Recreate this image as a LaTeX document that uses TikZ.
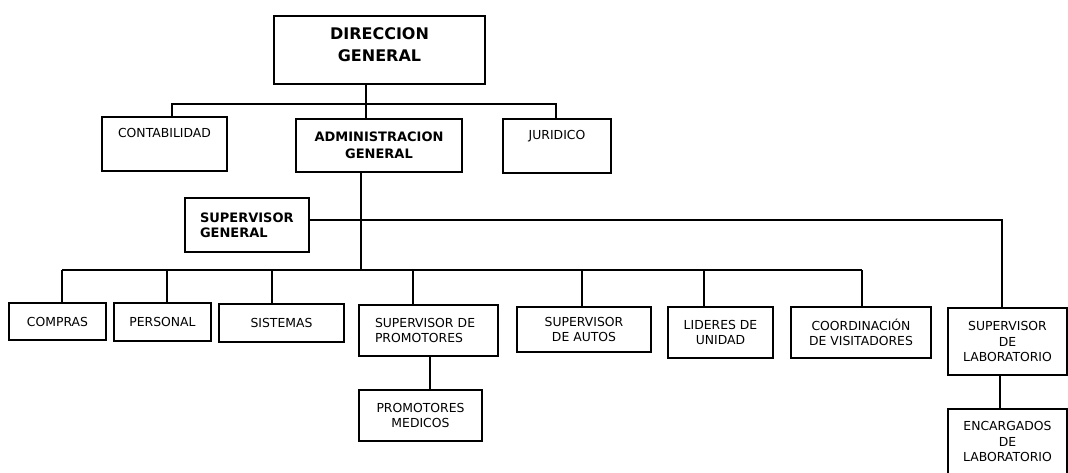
\documentclass[tikz,border=0pt]{standalone}
\usepackage{fontspec}
\setmainfont{DejaVu Sans}
\begin{document}
\begin{tikzpicture}[x=1pt,y=-1pt,
  box/.style={draw, line width=1.3pt, inner sep=0pt, align=center,
    font=\fontsize{12.4}{15.5}\selectfont},
  bbox/.style={box, font=\fontsize{13}{16.5}\selectfont\bfseries},
  topbox/.style={box, text depth=22pt},
  leftbox/.style={align=left, text width=#1},
  wire/.style={line width=1.3pt}]
\useasboundingbox (0,0) rectangle (1068,472);
\clip (0,0) rectangle (1068,472);

% boxes
\node[bbox, font=\fontsize{16}{22}\selectfont\bfseries, minimum width=211pt, minimum height=68pt, text depth=10pt]
  (dg) at (379.5,50) {DIRECCION\\GENERAL};
\node[topbox, minimum width=125pt, minimum height=54pt] (cont) at (164.5,144) {CONTABILIDAD};
\node[bbox, minimum width=166pt, minimum height=53pt] (adm) at (379,145.5) {ADMINISTRACION\\GENERAL};
\node[topbox, minimum width=108pt, minimum height=54pt] (jur) at (557,146) {JURIDICO};
\node[bbox, leftbox=94pt, font=\fontsize{13}{15}\selectfont\bfseries, minimum width=124pt, minimum height=54pt] (sg) at (247,225) {SUPERVISOR\\GENERAL};

\node[box, minimum width=97pt, minimum height=37pt] (com) at (57.5,321.5) {COMPRAS};
\node[box, minimum width=97pt, minimum height=38pt] (per) at (162.5,322) {PERSONAL};
\node[box, minimum width=125pt, minimum height=38pt] (sis) at (281.5,323) {SISTEMAS};
\node[box, leftbox=107pt, minimum width=139pt, minimum height=51pt] (sp) at (428.5,330.5) {SUPERVISOR DE\\PROMOTORES};
\node[box, minimum width=123pt, minimum height=51pt] (pm) at (420.5,415.5) {PROMOTORES\\MEDICOS};
\node[box, minimum width=134pt, minimum height=45pt] (au) at (584,329.5) {SUPERVISOR\\DE AUTOS};
\node[box, minimum width=105pt, minimum height=51pt] (li) at (720.5,332.5) {LIDERES DE\\UNIDAD};
\node[box, minimum width=140pt, minimum height=51pt] (co) at (861,332.5) {COORDINACIÓN\\DE VISITADORES};
\node[box, minimum width=119pt, minimum height=67pt] (sl) at (1007.5,341.5) {SUPERVISOR\\DE\\LABORATORIO};
\node[box, minimum width=119pt, minimum height=65pt] (enc) at (1007.5,441.5) {ENCARGADOS\\DE\\LABORATORIO};

% junction coordinates
\coordinate (j1) at (172,104);
\coordinate (j2) at (556,104);
\coordinate (jd) at (366,104);
\coordinate (k) at (361,270);
\coordinate (s1) at (1002,220);
\coordinate (bL) at (62,270);
\coordinate (bR) at (862,270);
\coordinate (bper) at (167,270);
\coordinate (bsis) at (272,270);
\coordinate (bsp) at (413,270);
\coordinate (bau) at (582,270);
\coordinate (bli) at (704,270);
\coordinate (xpm) at (430,370);
\coordinate (xenc) at (1000,390);

% connectors
\draw[wire] (dg.south -| jd) -- (adm.north -| jd);
\draw[wire] (cont.north -| j1) -- (j1) -- (j2) -- (jur.north -| j2);
\draw[wire] (adm.south -| k) -- (k);
\draw[wire] (sg.east |- s1) -- (s1) -- (sl.north -| s1);
\draw[wire] (bL) -- (bR);
\draw[wire] (com.north -| bL) -- (bL);
\draw[wire] (per.north -| bper) -- (bper);
\draw[wire] (sis.north -| bsis) -- (bsis);
\draw[wire] (sp.north -| bsp) -- (bsp);
\draw[wire] (au.north -| bau) -- (bau);
\draw[wire] (li.north -| bli) -- (bli);
\draw[wire] (co.north -| bR) -- (bR);
\draw[wire] (sp.south -| xpm) -- (pm.north -| xpm);
\draw[wire] (sl.south -| xenc) -- (enc.north -| xenc);
\end{tikzpicture}
\end{document}
